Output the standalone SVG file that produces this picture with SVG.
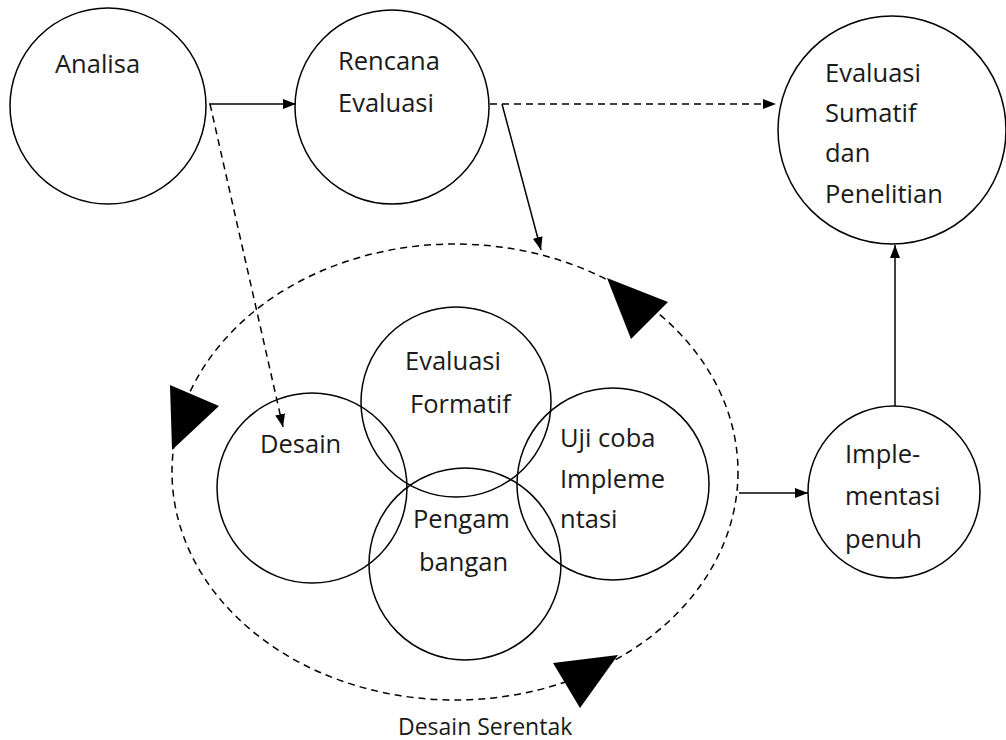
<svg xmlns="http://www.w3.org/2000/svg" width="1006" height="740" viewBox="0 0 1006 740">
<style>
.c{fill:none;stroke:#000;stroke-width:1.5}
.d{fill:none;stroke:#000;stroke-width:1.5;stroke-dasharray:7 5}
.l{fill:none;stroke:#000;stroke-width:1.5}
.t{font-family:"Open Sans","Liberation Sans",sans-serif;font-size:25.5px;fill:#1a1a1a}
.s{font-family:"Open Sans","Liberation Sans",sans-serif;font-size:23px;fill:#1a1a1a}
.tri{fill:#000}
</style>
<defs>
<marker id="ah" viewBox="0 0 13 10" refX="13" refY="5" markerWidth="13" markerHeight="10" markerUnits="userSpaceOnUse" orient="auto">
<path d="M0,0 L13,5 L0,10 Z" fill="#000"/>
</marker>
</defs>
<rect width="1006" height="740" fill="#fff"/>
<g id="siklus">
<ellipse class="d" cx="455" cy="472" rx="283" ry="228"/>
<polygon class="tri" points="170,385 219,406 172,450"/>
<polygon class="tri" points="607,278 668,302 631,339"/>
<polygon class="tri" points="553,663 618,655 580,708"/>
<text class="s" x="398" y="735">Desain Serentak</text>
</g>
<g id="analisa"><circle class="c" cx="108" cy="106" r="98"/><text class="t" x="55" y="73">Analisa</text></g>
<g id="rencana"><circle class="c" cx="392" cy="107" r="97"/><text class="t" x="338" y="70">Rencana</text><text class="t" x="338" y="112">Evaluasi</text></g>
<g id="sumatif"><circle class="c" cx="892" cy="130" r="114"/><text class="t" x="825" y="82">Evaluasi</text><text class="t" x="825" y="122">Sumatif</text><text class="t" x="825" y="162">dan</text><text class="t" x="825" y="203">Penelitian</text></g>
<g id="formatif"><circle class="c" cx="456" cy="402" r="95"/><text class="t" x="405" y="370">Evaluasi</text><text class="t" x="410" y="413">Formatif</text></g>
<g id="desain"><circle class="c" cx="312" cy="488" r="95"/><text class="t" x="260" y="453">Desain</text></g>
<g id="ujicoba"><circle class="c" cx="613" cy="484" r="96"/><text class="t" x="560" y="447">Uji coba</text><text class="t" x="560" y="488">Impleme</text><text class="t" x="560" y="528">ntasi</text></g>
<g id="pengambangan"><circle class="c" cx="465" cy="564" r="96"/><text class="t" x="413" y="528">Pengam</text><text class="t" x="419" y="571">bangan</text></g>
<g id="implementasi"><circle class="c" cx="894" cy="492" r="86"/><text class="t" x="845" y="463">Imple-</text><text class="t" x="845" y="505">mentasi</text><text class="t" x="845" y="548">penuh</text></g>
<g id="connectors">
<line class="l" x1="209" y1="104" x2="296" y2="104" marker-end="url(#ah)"/>
<path class="d" d="M210,104 L283,427" marker-end="url(#ah)"/>
<line class="d" x1="490" y1="104" x2="776" y2="104" marker-end="url(#ah)"/>
<path class="l" d="M502,104 L541,250" marker-end="url(#ah)"/>
<line class="l" x1="739" y1="493" x2="808" y2="493" marker-end="url(#ah)"/>
<line class="l" x1="895" y1="406" x2="895" y2="245" marker-end="url(#ah)"/>
</g>
</svg>
